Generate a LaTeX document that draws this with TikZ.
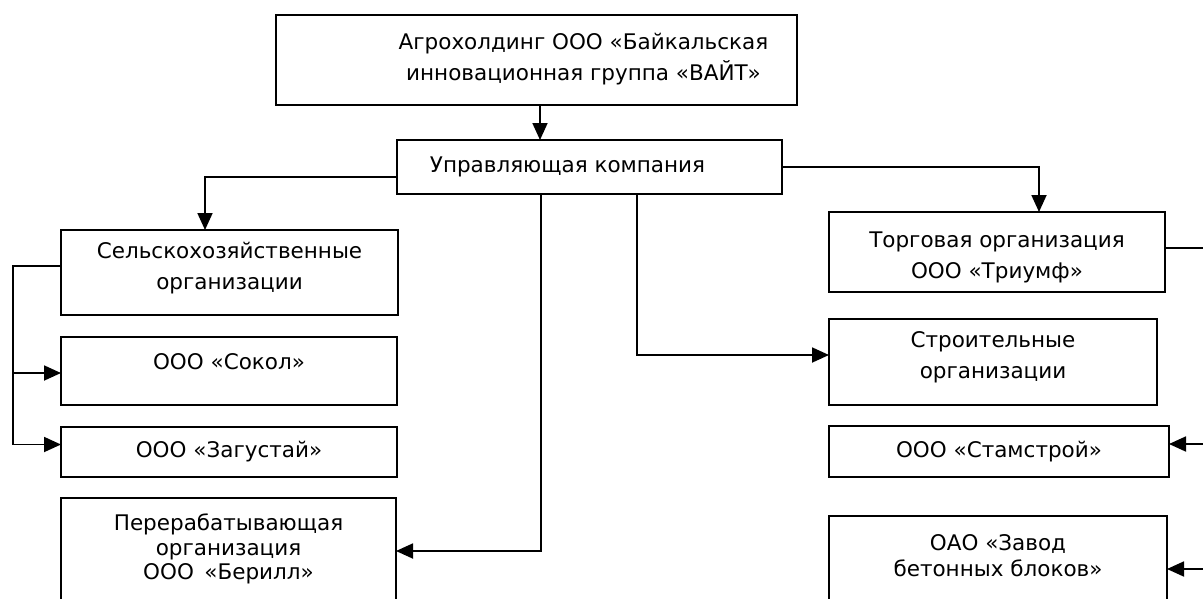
\documentclass[tikz,border=0pt]{standalone}
\usepackage{fontspec}
\setmainfont{DejaVu Sans}
\usetikzlibrary{arrows.meta}
\tikzset{
  box/.style={draw, line width=1.9pt, inner sep=0pt, outer sep=0pt, anchor=north west},
  tx/.style={align=center, inner sep=0pt, font=\fontsize{21.5}{31}\selectfont},
  arr/.style={line width=1.8pt, -{Triangle[length=17pt,width=15pt]}},
  ln/.style={line width=1.8pt}
}
\begin{document}
\begin{tikzpicture}[x=1pt,y=-1pt]
\useasboundingbox (0,0) rectangle (1203,598);
\clip (0,0) rectangle (1203,598);
% boxes
\node[box, minimum width=521pt, minimum height=90pt,
  label={[tx, shift={(47,-1)}]center:{Агрохолдинг ООО «Байкальская\\инновационная группа «ВАЙТ»}}] (top) at (276,15) {};
\node[box, minimum width=385pt, minimum height=54pt,
  label={[tx, shift={(-22,0)}]center:{Управляющая компания}}] (uk) at (397,140) {};
\node[box, minimum width=337pt, minimum height=85pt,
  label={[tx, shift={(0,-4.5)}]center:{Сельскохозяйственные\\организации}}] (sel) at (61,230) {};
\node[box, minimum width=336pt, minimum height=68pt,
  label={[tx, shift={(0,-9)}]center:{ООО «Сокол»}}] (sok) at (61,337) {};
\node[box, minimum width=336pt, minimum height=50pt,
  label={[tx, shift={(0,0)}]center:{ООО «Загустай»}}] (zag) at (61,427) {};
\node[box, minimum width=335pt, minimum height=110pt,
  label={[tx, font=\fontsize{21.5}{24.5}\selectfont, shift={(0,-4)}]center:{Перерабатывающая\\организация\\ООО \,«Берилл»}}] (per) at (61,498) {};
\node[box, minimum width=336pt, minimum height=80pt,
  label={[tx, shift={(0,5.5)}]center:{Торговая организация\\ООО «Триумф»}}] (tor) at (829,212) {};
\node[box, minimum width=328pt, minimum height=86pt,
  label={[tx, shift={(0,-5)}]center:{Строительные\\организации}}] (str) at (829,319) {};
\node[box, minimum width=340pt, minimum height=51pt,
  label={[tx, shift={(0,0)}]center:{ООО «Стамстрой»}}] (stam) at (829,426) {};
\node[box, minimum width=338pt, minimum height=100pt,
  label={[tx, font=\fontsize{21.5}{26}\selectfont, shift={(0,-10)}]center:{ОАО «Завод\\бетонных блоков»}}] (zav) at (829,516) {};
% connectors
\draw[arr] ([xshift=3.5pt]top.south) -- ([xshift=3.5pt]top.south |- uk.north);
\draw[arr] ([yshift=-10pt]uk.west) -| ([xshift=-24.5pt]sel.north);
\draw[arr] ([xshift=-48.5pt]uk.south) |- ([yshift=2pt]per.east);
\draw[arr] ([xshift=47.5pt]uk.south) |- ([yshift=7pt]str.west);
\draw[arr] (uk.east) -| ([xshift=42pt]tor.north);
% left bracket
\coordinate (lb) at (13,266);
\coordinate (sokin) at ([yshift=-2pt]sok.west);
\coordinate (zagin) at ([yshift=7.5pt]zag.west);
\draw[ln] ([yshift=6.5pt]sel.west) -- (lb) -- (lb |- zagin);
\draw[arr] (lb |- sokin) -- (sokin);
\draw[arr] (lb |- zagin) -- (zagin);
% right bracket
\coordinate (rb) at (1215,248);
\coordinate (stamin) at ([yshift=7.5pt]stam.east);
\coordinate (zavin) at ([yshift=-3pt]zav.east);
\draw[ln] ([yshift=4pt]tor.east) -- (rb) -- (rb |- zavin);
\draw[arr] (rb |- stamin) -- (stamin);
\draw[arr] (rb |- zavin) -- (zavin);
\end{tikzpicture}
\end{document}
